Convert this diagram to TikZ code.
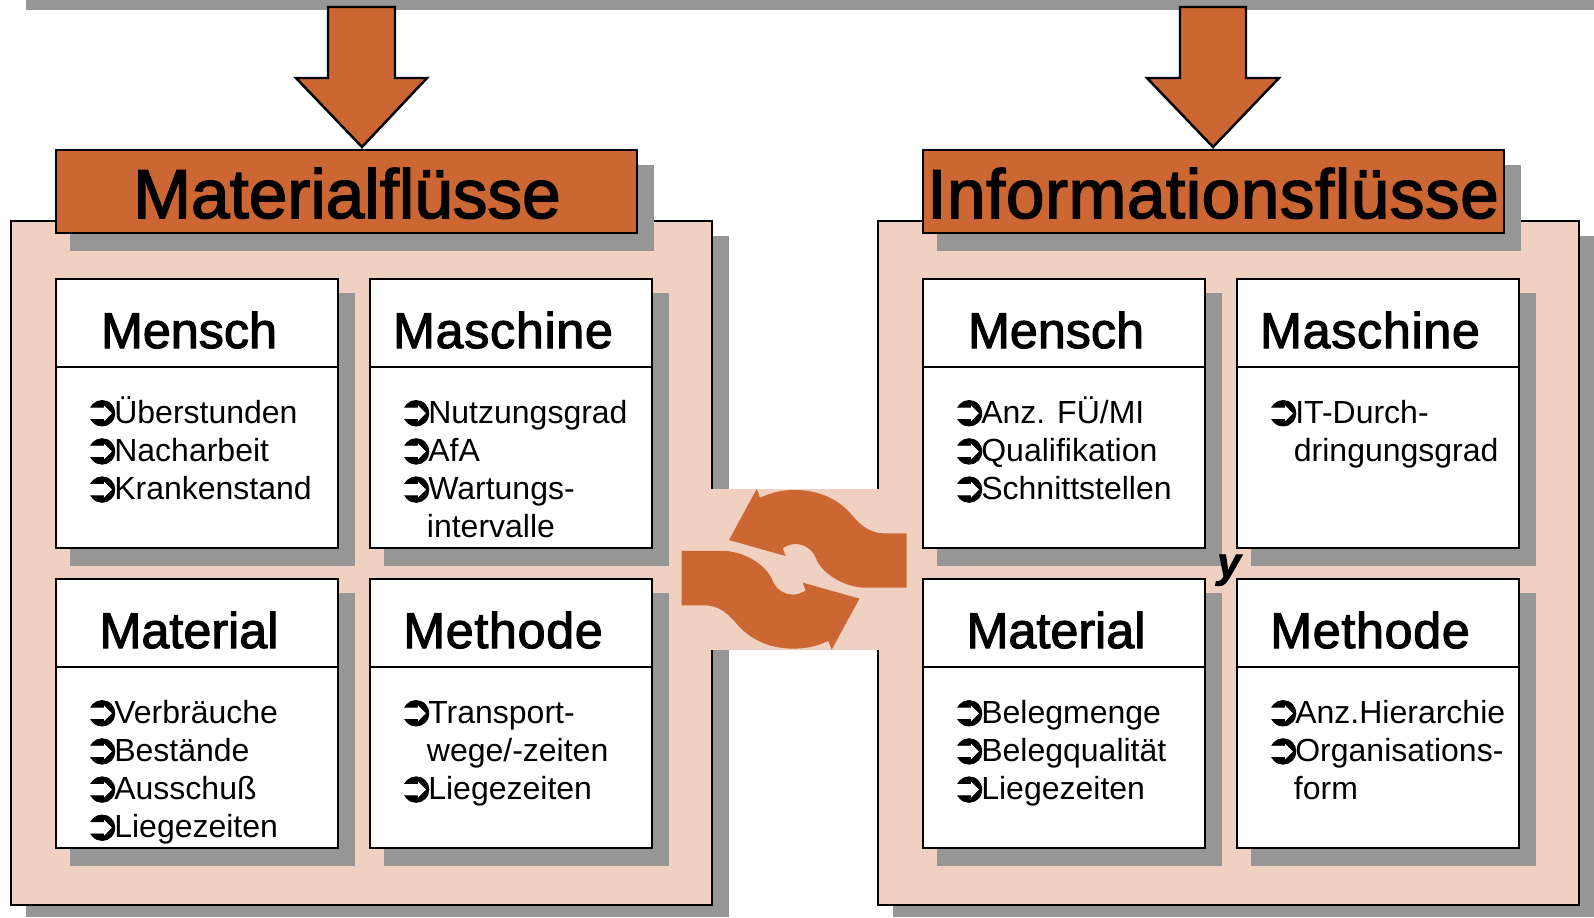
\documentclass[tikz,border=0pt]{standalone}
\usepackage{fontspec}
\setmainfont{Liberation Sans}
\newfontfamily\bulletfont[FakeBold=2]{DejaVu Sans}
\newfontfamily\heavyfont[FakeBold=2.2]{Liberation Sans}
\newfontfamily\yfont[FakeBold=2]{Liberation Sans Bold Italic}
\usetikzlibrary{positioning}
\definecolor{flow orange}{HTML}{CC6633}
\definecolor{flow pink}{HTML}{F0D0C0}
\definecolor{flow shadow}{HTML}{969696}
\tikzset{
    % Boxes
    outline/.style={draw=black,line width=.7pt},
    panel box/.style={outline,fill=flow pink},
    title box/.style={outline,fill=flow orange},
    card box/.style={outline,fill=white},
    shadow box/.style={fill=flow shadow},
    down arrow/.style={outline,fill=flow orange,line join=miter},
    %
    % Texts
    title text/.style={anchor=base,inner sep=0pt,font=\heavyfont\fontsize{19.7}{24}\selectfont},
    head text/.style={anchor=base,inner sep=0pt,font=\heavyfont\fontsize{14.3}{17}\selectfont},
    list text/.style={anchor=north west,inner sep=0pt,align=left,font=\fontsize{9.1}{10.85}\selectfont},
}
\newcommand{\itm}{\rule{0pt}{8pt}\makebox[7pt][l]{\hspace*{-1.5pt}\bulletfont\fontsize{12}{12}\selectfont\raisebox{-.5pt}{➲}}}
\newcommand{\cont}{\hspace*{6.6pt}}
% name, left, top, heading, list
\newcommand{\card}[5]{
    \fill[shadow box] ({#2+14},{#3+14}) rectangle ({#2+282+17},{#3+269+18});
    \draw[card box] (#2,#3) rectangle ({#2+282},{#3+269});
    \draw[outline] (#2,{#3+88}) -- ({#2+282},{#3+88});
    \node[head text] (#1 head) at ({#2+133},{#3+69}) {#4};
    \node[list text] (#1 list) at ({#2+33},{#3+115.6}) {#5};
}
\begin{document}
\begin{tikzpicture}[x=.01cm,y=-.01cm]
    \useasboundingbox (0,0) rectangle (1594,917);
    \fill[shadow box] (26,0) rectangle (1594,10);
    % Panels
    \fill[shadow box] (26,236) rectangle (729,917);
    \draw[panel box] (11,221) rectangle (712,905);
    \fill[shadow box] (893,236) rectangle (1594,917);
    \draw[panel box] (878,221) rectangle (1579,905);
    % Exchange
    \fill[flow pink] (711,489) rectangle (881,650);
    \foreach \ang in {0,180}
        \fill[flow orange,rotate around={\ang:(794.2,569.3)}] (906.7,533.3) -- (906.7,587.7) -- (863.3,587.7)
            .. controls (846.7,586.7) and (825,576.7) .. (816.7,560)
            .. controls (813.3,550) and (805,544) .. (795,544)
            .. controls (788.3,544) and (782.7,548.3) .. (782.7,548.3)
            -- (785.7,556) -- (729,540) -- (756.7,489) -- (760,497.7)
            .. controls (773.3,491.7) and (783.3,490) .. (795,490)
            .. controls (820,490) and (840,500) .. (853.3,516.7)
            .. controls (863.3,528.3) and (873.3,533.3) .. (883.3,533.3) -- cycle;
    % Arrows
    \draw[down arrow] (328,7) -- (395,7) -- (395,78) -- (427,78) -- (362,147) -- (296,78) -- (328,78) -- cycle;
    \draw[down arrow] (1180,7) -- (1246,7) -- (1246,78) -- (1279,78) -- (1213,147) -- (1147,78) -- (1180,78) -- cycle;
    % Titles
    \fill[shadow box] (70,165) rectangle (654,251);
    \draw[title box] (56,150) rectangle (637,233);
    \node[title text] (material title) at (347,218) {Materialflüsse};
    \fill[shadow box] (937,165) rectangle (1521,251);
    \draw[title box] (923,150) rectangle (1504,233);
    \node[title text] (info title) at (1213,218) {\addfontfeature{LetterSpace=.8}Informationsflüsse};
    % Cards
    \card{m mensch}{56}{279}{Mensch}{\itm Überstunden\\\itm Nacharbeit\\\itm Krankenstand}
    \card{m maschine}{370}{279}{\addfontfeature{LetterSpace=1.3}Maschine}{\itm Nutzungsgrad\\\itm AfA\\\itm Wartungs-\\\cont intervalle}
    \card{m material}{56}{579}{Material}{\itm Verbräuche\\\itm Bestände\\\itm Ausschuß\\\itm Liegezeiten}
    \card{m methode}{370}{579}{\addfontfeature{LetterSpace=1.3}Methode}{\itm Transport-\\\cont wege/-zeiten\\\itm Liegezeiten}
    \card{i mensch}{923}{279}{Mensch}{\itm Anz. FÜ/MI\\\itm Qualifikation\\\itm Schnittstellen}
    \card{i maschine}{1237}{279}{\addfontfeature{LetterSpace=1.3}Maschine}{\itm IT-Durch-\\\cont dringungsgrad}
    \card{i material}{923}{579}{Material}{\itm Belegmenge\\\itm Belegqualität\\\itm Liegezeiten}
    \card{i methode}{1237}{579}{\addfontfeature{LetterSpace=1.3}Methode}{\itm Anz.Hierarchie\\\itm Organisations-\\\cont form}
    \node[anchor=base,inner sep=0pt,font=\yfont\fontsize{12}{14}\selectfont] (stray y) at (1229,577) {y};
\end{tikzpicture}
\end{document}
